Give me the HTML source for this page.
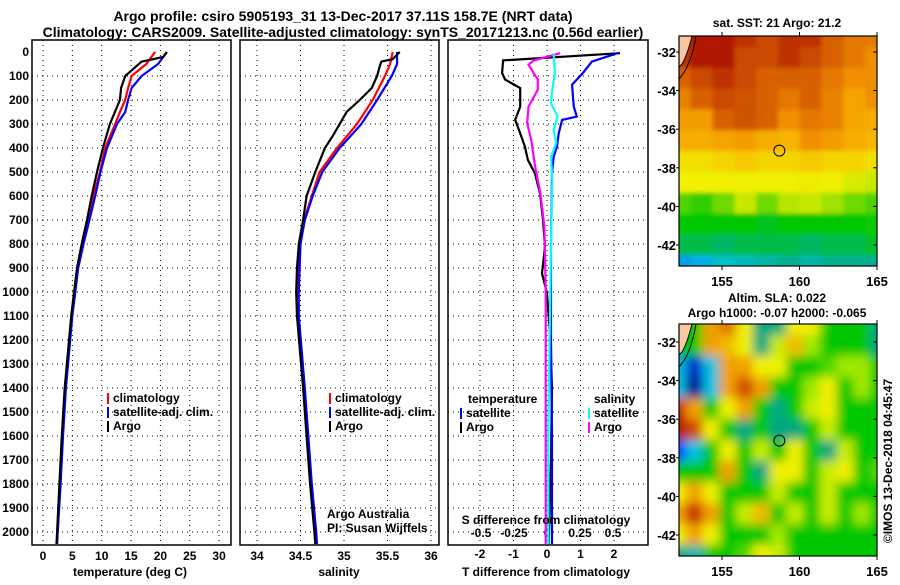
<!DOCTYPE html>
<html><head><meta charset="utf-8"><style>
html,body{margin:0;padding:0;background:#fff;}
svg text{font-family:"Liberation Sans",Arial,sans-serif;font-weight:bold;fill:#000;}
</style></head><body>
<svg id="c" width="900" height="580" viewBox="0 0 900 580" xmlns="http://www.w3.org/2000/svg">
<defs>
<filter id="blurS" x="-5%" y="-5%" width="110%" height="110%"><feGaussianBlur stdDeviation="2"/></filter>
<filter id="blurA" x="-5%" y="-5%" width="110%" height="110%"><feGaussianBlur stdDeviation="5"/></filter>
<clipPath id="clipM1"><rect x="679" y="36" width="198" height="230"/></clipPath>
<clipPath id="clipM2"><rect x="679" y="324" width="198" height="232"/></clipPath>
<clipPath id="clipP1"><rect x="32" y="40" width="199" height="505"/></clipPath>
<clipPath id="clipP2"><rect x="240" y="40" width="199" height="505"/></clipPath>
<clipPath id="clipP3"><rect x="448" y="40" width="200" height="505"/></clipPath>
</defs>
<text x="343" y="21" text-anchor="middle" font-size="14">Argo profile: csiro 5905193_31 13-Dec-2017 37.11S 158.7E (NRT data)</text>
<text x="343" y="37" text-anchor="middle" font-size="14">Climatology: CARS2009. Satellite-adjusted climatology: synTS_20171213.nc (0.56d earlier)</text>
<g id="g"></g>
</svg>
<script>
// ---- Profile data ----
const depthT = [0,20,30,40,70,100,150,200,300,400,500,600,700,800,900,1000,1100,1400,1600,1800,2000,2050];
const tempArgo = [21.1,20.5,18.8,16.8,15.4,14.0,13.3,13.1,11.4,10.2,9.2,8.3,7.5,6.6,5.8,5.3,4.8,3.7,3.2,2.8,2.4,2.3];
const depthC = [0,50,100,150,200,250,300,400,500,600,700,800,900,1000,1100,1400,1600,1800,2000,2050];
const tempClim = [19.1,17.6,15.1,14.5,14.0,13.1,12.3,10.6,9.7,8.6,7.6,6.7,5.9,5.4,4.9,3.8,3.3,2.9,2.5,2.3];
const tempSat = [21.1,19.6,16.8,15.1,14.5,14.0,12.6,10.9,9.8,8.9,7.9,6.9,6.0,5.5,5.0,3.9,3.4,3.0,2.5,2.4];
const depthS = [0,30,40,60,100,150,200,250,300,350,400,500,600,700,800,900,1000,1100,1400,1600,1800,2000,2050];
const salArgo = [35.64,35.56,35.43,35.41,35.38,35.32,35.18,35.03,34.95,34.87,34.78,34.67,34.57,34.53,34.48,34.46,34.45,34.46,34.53,34.57,34.61,34.66,34.67];
const depthSC = [0,50,100,200,300,400,500,600,700,800,900,1000,1100,1400,1600,1800,2000,2050];
const salClim = [35.56,35.53,35.47,35.33,35.15,34.92,34.72,34.63,34.54,34.50,34.48,34.47,34.47,34.54,34.58,34.62,34.67,34.68];
const salSat = [35.61,35.61,35.55,35.38,35.20,34.95,34.75,34.64,34.55,34.50,34.49,34.48,34.48,34.55,34.59,34.63,34.68,34.69];
const depthD = [5,35,88,115,150,228,283,339,394,450,505,589,700,811,922,1005,1200,1400,1700,2050];
const dTArgo = [2.18,-1.31,-1.34,-1.25,-0.8,-0.8,-0.95,-0.8,-0.66,-0.57,-0.36,-0.21,-0.12,-0.06,-0.15,0,0.1,0.15,0.12,0.05];
const depthD2 = [5,40,88,136,178,228,269,283,339,394,436,505,800,1200,1600,2050];
const dTSat = [2.1,1.34,1.07,0.75,0.77,0.8,0.89,0.45,0.35,0.3,0.2,0.15,0.12,0.12,0.15,0.15];
const depthD3 = [5,35,53,115,157,228,297,366,477,589,728,1000,1500,2050];
const dSArgo = [0.1,-0.1,-0.14,-0.07,-0.07,-0.14,-0.15,-0.12,-0.09,-0.05,-0.02,-0.01,-0.01,-0.01];
const depthD4 = [5,88,157,214,269,325,380,436,533,800,1200,1600,2050];
const dSSat = [0.05,0.06,0.04,0.03,0.08,0.05,0.07,0.03,0.04,0.03,0.02,0.01,0.01];
const depthTicks = [0,100,200,300,400,500,600,700,800,900,1000,1100,1200,1300,1400,1500,1600,1700,1800,1900,2000];
const tTicks = [0,5,10,15,20,25,30];
const sTicks = [34,34.5,35,35.5,36];
const sLabels = ["34","34.5","35","35.5","36"];
const dTTicks = [-2,-1,0,1,2];
const dSTicks = [-0.5,-0.25,0,0.25,0.5];
const dSLabels = ["-0.5","-0.25","0","0.25","0.5"];
// ---- Map data ----
const sstGrid = [
[.95,1,1,.95,.9,.95,.95,.85,.8,.8],
[.95,1,1,.9,.9,.95,.9,.85,.8,.75],
[.85,.9,.95,.9,.85,.85,.85,.8,.75,.75],
[.78,.85,.9,.88,.85,.8,.85,.78,.7,.75],
[.72,.72,.85,.88,.85,.75,.8,.78,.7,.68],
[.68,.68,.7,.72,.68,.66,.75,.72,.68,.65],
[.58,.58,.6,.62,.6,.6,.62,.6,.6,.58],
[.55,.55,.55,.55,.55,.55,.56,.55,.52,.5],
[.4,.38,.42,.5,.42,.48,.5,.45,.42,.4],
[.35,.35,.35,.35,.33,.35,.35,.35,.35,.36],
[.3,.3,.28,.3,.3,.3,.28,.3,.3,.32],
[.1,.12,.18,.2,.22,.25,.22,.25,.25,.25]];
const slaGrid = [
[.4,.4,.75,.8,.6,.3,.3,.6,.6,.4,.4,.4,.3],
[.4,.4,.75,.7,.6,.3,.55,.7,.5,.4,.4,.4,.3],
[.2,.05,.2,.75,.75,.6,.6,.4,.4,.45,.5,.5,.4],
[.2,0,.2,.75,.85,.75,.4,.4,.5,.6,.4,.5,.4],
[.9,.75,.4,.6,.75,.4,.3,.4,.55,.6,.4,.4,.4],
[.95,.85,.6,.4,.3,.4,.3,.3,.4,.55,.4,.4,.4],
[.1,.2,.4,.6,.4,.55,.4,.6,.4,.3,.55,.4,.4],
[.4,.4,.4,.75,.4,.3,.6,.6,.4,.55,.6,.4,.45],
[.6,.75,.6,.4,.4,.4,.55,.4,.4,.55,.4,.4,.4],
[.75,.88,.75,.4,.55,.7,.4,.55,.4,.55,.4,.5,.4],
[.6,.75,.6,.4,.4,.4,.5,.4,.4,.4,.4,.4,.4],
[.3,.25,.4,.4,.45,.6,.55,.4,.4,.4,.4,.4,.4]];
const lonTicks = [155,160,165];
const latTicks = [-32,-34,-36,-38,-40,-42];
const argoLon = [158.7];
const argoLat = [-37.11];

const NS='http://www.w3.org/2000/svg';
const G=document.getElementById('g');
function el(tag,attrs,parent){const e=document.createElementNS(NS,tag);for(const k in attrs)e.setAttribute(k,attrs[k]);(parent||G).appendChild(e);return e;}
function txt(x,y,s,size,anchor,parent){const t=el('text',{x:x,y:y,'font-size':size,'text-anchor':anchor||'middle'},parent);t.textContent=s;return t;}
const yD=d=>52+d*0.24;
const xT=v=>43+v*5.87;
const xS=v=>257+(v-34)*87;
const xdT=v=>547+v*33.5;
const xdS=v=>547+v*132;

function panel(x0,w,name){
  const g=el('g',{});
  
  
  depthTicks.forEach(d=>{if(d>0)el('line',{x1:x0,x2:x0+w,y1:yD(d),y2:yD(d),stroke:'#000','stroke-width':1,'stroke-dasharray':'1,4'},g);});
  return g;
}
function frame(x0,w,g){el('rect',{x:x0,y:40,width:w,height:505,fill:'none',stroke:'#000','stroke-width':1.5},g);}
function line(xs,ds,xf,color,g,name,clip){
  const p=el('polyline',{points:xs.map((v,i)=>xf(v).toFixed(1)+','+yD(ds[i]).toFixed(1)).join(' '),fill:'none',stroke:color,'stroke-width':2.2,'clip-path':'url(#'+clip+')'},g);
  
  
}
let g1=panel(32,199,'temperature-panel');
tTicks.forEach(t=>{el('line',{x1:xT(t),x2:xT(t),y1:40,y2:545,stroke:'#000','stroke-dasharray':'1,4'},g1);txt(xT(t),560,String(t),12,'middle',g1);});
depthTicks.forEach(d=>{txt(29,yD(d)+4,String(d),12,'end',g1);});
line(tempClim,depthC,xT,'#f00',g1,'temp-climatology-line','clipP1');
line(tempSat,depthC,xT,'#00f',g1,'temp-satellite-line','clipP1');
line(tempArgo,depthT,xT,'#000',g1,'temp-argo-line','clipP1');
frame(32,199,g1);
txt(130,576,'temperature (deg C)',12,'middle',g1);
let g2=panel(240,199,'salinity-panel');
sTicks.forEach((s,i)=>{el('line',{x1:xS(s),x2:xS(s),y1:40,y2:545,stroke:'#000','stroke-dasharray':'1,4'},g2);txt(xS(s),560,sLabels[i],12,'middle',g2);});
line(salClim,depthSC,xS,'#f00',g2,'sal-climatology-line','clipP2');
line(salSat,depthSC,xS,'#00f',g2,'sal-satellite-line','clipP2');
line(salArgo,depthS,xS,'#000',g2,'sal-argo-line','clipP2');
frame(240,199,g2);
txt(339,576,'salinity',12,'middle',g2);
function legend(x,y,items,g){items.forEach((it,i)=>{el('rect',{x:x,y:y+i*14-9,width:2,height:11,fill:it[1]},g);txt(x+6,y+i*14,it[0],12,'start',g);});}
legend(107,402,[['climatology','#f00'],['satellite-adj. clim.','#00f'],['Argo','#000']],g1);
legend(329,402,[['climatology','#f00'],['satellite-adj. clim.','#00f'],['Argo','#000']],g2);
const cr=el('g',{},g2);
txt(327,518,'Argo Australia',12,'start',cr).setAttribute('font-weight','normal');
txt(327,532,'PI: Susan Wijffels',12,'start',cr).setAttribute('font-weight','normal');
let g3=panel(448,200,'difference-panel');
dTTicks.forEach(t=>{el('line',{x1:xdT(t),x2:xdT(t),y1:40,y2:545,stroke:'#000','stroke-dasharray':'1,4'},g3);txt(xdT(t),558,String(t),12,'middle',g3);});
dSTicks.forEach((s,i)=>{txt(xdS(s),537,dSLabels[i],12,'middle',g3);});
line(dTArgo,depthD,xdT,'#000',g3,'dT-argo-line','clipP3');
line(dTSat,depthD2,xdT,'#00f',g3,'dT-satellite-line','clipP3');
line(dSArgo,depthD3,xdS,'#f0f',g3,'dS-argo-line','clipP3');
line(dSSat,depthD4,xdS,'#0ff',g3,'dS-satellite-line','clipP3');
frame(448,200,g3);
txt(546,524,'S difference from climatology',12,'middle',g3);
txt(546,576,'T difference from climatology',12,'middle',g3);
txt(468,403,'temperature',12,'start',g3);
legend(460,417,[['satellite','#00f'],['Argo','#000']],g3);
txt(594,403,'salinity',12,'start',g3);
legend(588,417,[['satellite','#0ff'],['Argo','#f0f']],g3);
function interp(stops,v){v=Math.max(0,Math.min(1,v));for(let i=1;i<stops.length;i++){if(v<=stops[i][0]){const a=stops[i-1],b=stops[i],f=(v-a[0])/(b[0]-a[0]);const c=a[1].map((x,k)=>Math.round(x+(b[1][k]-x)*f));return 'rgb('+c.join(',')+')';}}return 'rgb('+stops[stops.length-1][1].join(',')+')';}
const sstStops=[[0,[0,80,255]],[.15,[0,200,224]],[.25,[0,176,144]],[.35,[0,200,0]],[.45,[160,224,0]],[.55,[240,240,0]],[.65,[248,184,0]],[.75,[240,144,0]],[.85,[216,96,0]],[1,[176,24,0]]];
const slaStops=[[0,[0,0,144]],[.1,[0,64,255]],[.2,[0,192,224]],[.3,[0,168,128]],[.4,[0,200,0]],[.5,[160,232,0]],[.6,[240,240,0]],[.75,[240,160,0]],[.88,[200,48,0]],[1,[160,0,0]]];
const mx0=679,mw=198;
const xLon=lon=>722+(lon-155)*15.5;
function map(grid,stops,y0,h,lat32,blur,clip,name,titles){
  const g=el('g',{});
  
  
  const yLat=lat=>lat32+(-32-lat)*19.3;
  const img=el('g',{'clip-path':'url(#'+clip+')'},g);
  const inner=el('g',{filter:'url(#'+blur+')'},img);
  const rows=grid.length,cols=grid[0].length,cw=(mw+20)/cols,rh=(h+20)/rows;
  grid.forEach((row,r)=>row.forEach((v,c)=>{el('rect',{x:(mx0-10+c*cw).toFixed(1),y:(y0-10+r*rh).toFixed(1),width:(cw+0.6).toFixed(1),height:(rh+0.6).toFixed(1),fill:interp(stops,v)},inner);}));
  el('path',{d:`M${mx0},${y0} L${mx0+13},${y0} Q${mx0+8},${y0+20} ${mx0+3},${y0+28} L${mx0},${y0+31} Z`,fill:'#f8c8a0',stroke:'none'},img);
  el('path',{d:`M${mx0+13},${y0} Q${mx0+8},${y0+20} ${mx0+3},${y0+28} L${mx0},${y0+31}`,fill:'none',stroke:'#000','stroke-width':1},img);
  el('path',{d:`M${mx0+17},${y0} Q${mx0+12},${y0+30} ${mx0},${y0+43}`,fill:'none',stroke:'#000','stroke-width':1},img);
  el('rect',{x:mx0,y:y0,width:mw,height:h,fill:'none',stroke:'#000','stroke-width':1.2},g);
  argoLon.forEach((lo,i)=>{const c=el('circle',{cx:xLon(lo),cy:yLat(argoLat[i]),r:5.5,fill:'none',stroke:'#000','stroke-width':1},g);});
  lonTicks.forEach(lo=>{el('line',{x1:xLon(lo),x2:xLon(lo),y1:y0,y2:y0-4,stroke:'#000'},g);el('line',{x1:xLon(lo),x2:xLon(lo),y1:y0+h,y2:y0+h+4,stroke:'#000'},g);txt(xLon(lo),y0+h+20,String(lo),13,'middle',g);});
  latTicks.forEach(la=>{el('line',{x1:mx0+mw,x2:mx0+mw-4,y1:yLat(la),y2:yLat(la),stroke:'#000'},g);el('line',{x1:mx0,x2:mx0-3,y1:yLat(la),y2:yLat(la),stroke:'#000'},g);txt(mx0-3,yLat(la)+5,String(la),13,'end',g);});
  titles.forEach((t,i)=>txt(t[1],t[2],t[0],12,'middle',g));
  return g;
}
map(sstGrid,sstStops,36,230,52,'blurS','clipM1','sst-map',[['sat. SST: 21 Argo: 21.2',777,27]]);
map(slaGrid,slaStops,324,232,342,'blurA','clipM2','sla-map',[['Altim. SLA: 0.022',777,302],['Argo h1000: -0.07 h2000: -0.065',777,317]]);
const cp=txt(0,0,'\u00A9IMOS 13-Dec-2018 04:45:47',12,'middle');
cp.setAttribute('transform','translate(892,461) rotate(-90)');
cp.setAttribute('font-weight','normal');


</script>
</body></html>
